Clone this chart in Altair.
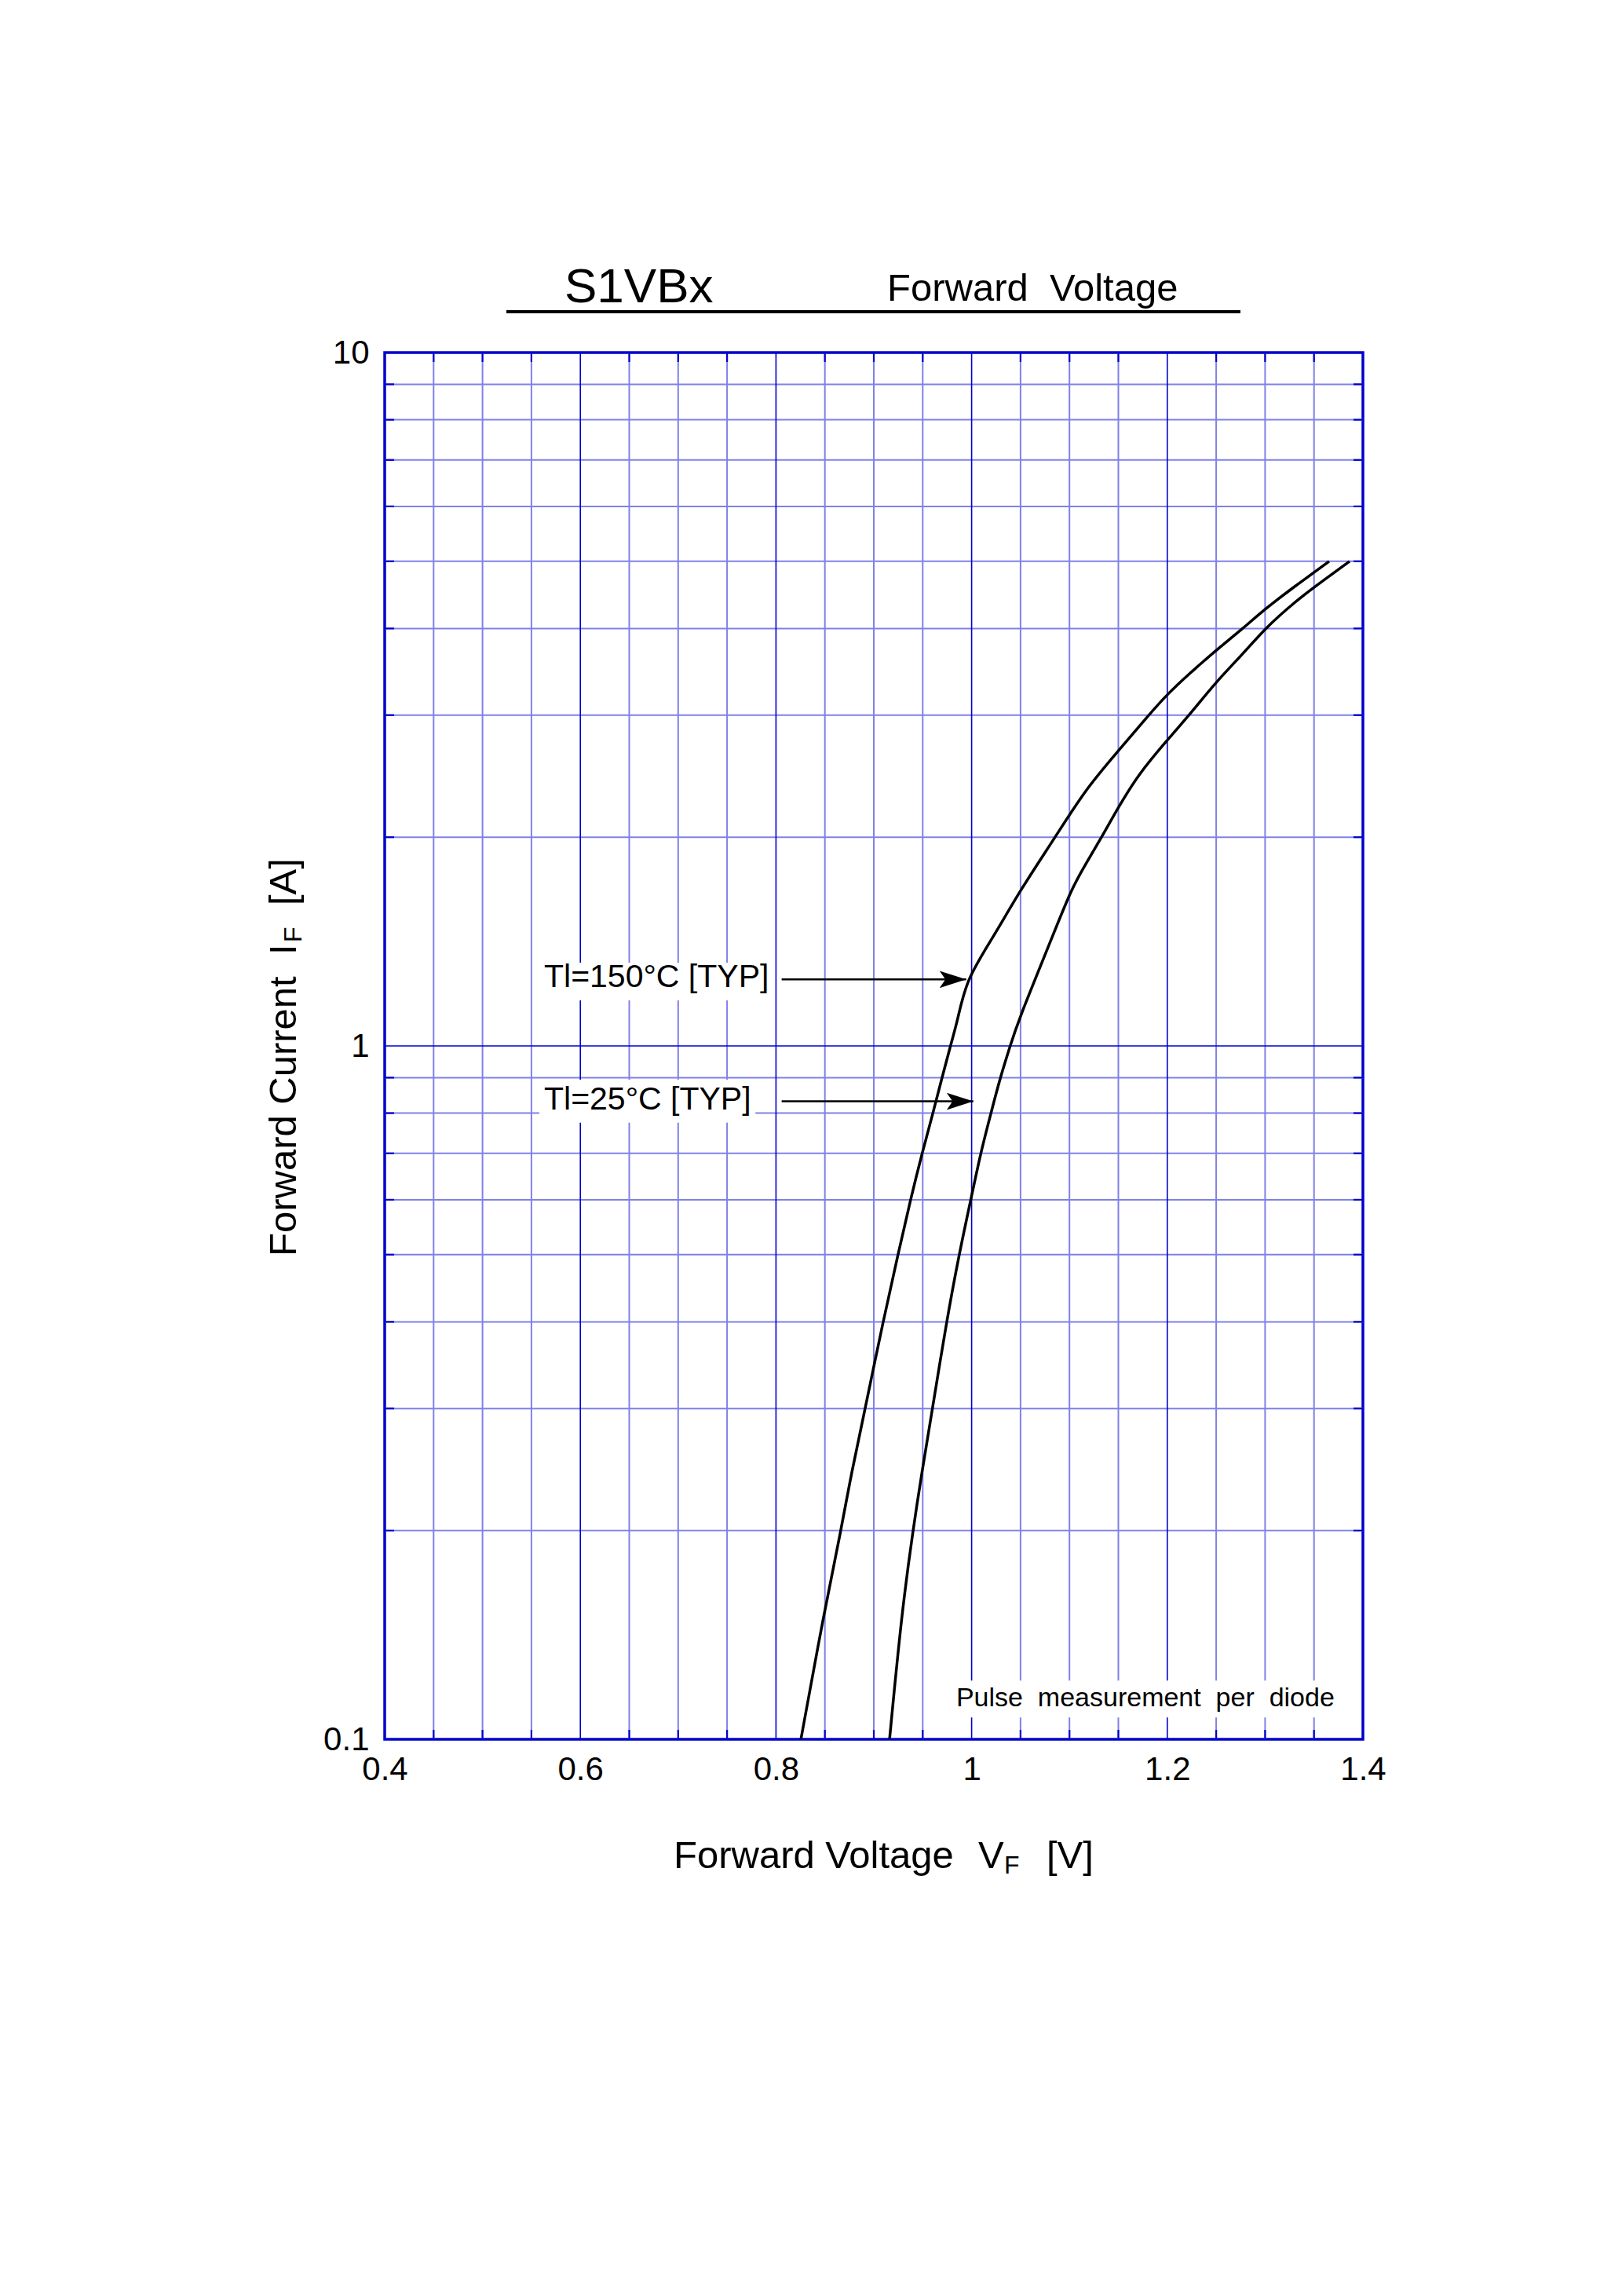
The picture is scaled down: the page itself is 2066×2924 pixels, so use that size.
import altair as alt
import pandas as pd

# forward characteristics (V, A)
v_150 = [0.8255, 0.8490, 0.8665, 0.8770, 0.8912, 0.9094, 0.9247, 0.9375, 0.9493, 0.9605,
         0.9697, 0.9783, 0.9855, 0.9945, 1.0215, 1.0505, 1.0855, 1.1168, 1.1500, 1.1810,
         1.2000, 1.2238, 1.2425, 1.2500, 1.2773, 1.2997, 1.3307, 1.3655]
i_150 = [0.100, 0.152, 0.200, 0.242, 0.300, 0.400, 0.500, 0.600, 0.700, 0.800,
         0.900, 1.000, 1.086, 1.247, 1.430, 1.685, 2.000, 2.349, 2.664, 3.000,
         3.216, 3.456, 3.641, 3.722, 4.000, 4.266, 4.605, 5.000]
v_25 = [0.9161, 0.9285, 0.9400, 0.9490, 0.9600, 0.9743, 0.9871, 0.9992, 1.0091, 1.0198,
        1.0292, 1.0394, 1.0475, 1.0820, 1.1020, 1.1170, 1.1329, 1.1500, 1.1703, 1.2000,
        1.2225, 1.2500, 1.2773, 1.2997, 1.3307, 1.3497, 1.3864]
i_25 = [0.100, 0.152, 0.200, 0.242, 0.300, 0.400, 0.500, 0.600, 0.700, 0.800,
        0.900, 1.000, 1.086, 1.430, 1.685, 1.833, 2.000, 2.209, 2.463, 2.762,
        3.000, 3.353, 3.674, 4.000, 4.371, 4.584, 5.000]

x_ticks = [0.4, 0.6, 0.8, 1.0, 1.2, 1.4]
y_ticks = [0.1, 1, 10]
x_grid_minor = [0.45, 0.5, 0.55, 0.65, 0.7, 0.75, 0.85, 0.9, 0.95, 1.05, 1.1, 1.15, 1.25, 1.3, 1.35]
x_grid_major = [0.6, 0.8, 1.0, 1.2]
y_grid_minor = [0.2, 0.3, 0.4, 0.5, 0.6, 0.7, 0.8, 0.9, 2, 3, 4, 5, 6, 7, 8, 9]
y_grid_major = [1]

ann_text = ["Tl=150°C [TYP]", "Tl=25°C [TYP]"]
ann_v = [0.5629, 0.5629]
ann_i = [1.2146, 0.809]
box_v = [0.558, 0.558, 0.975]
box_v2 = [0.798, 0.779, 1.38]
box_i = [1.163, 0.775, 0.1075]
box_i2 = [1.318, 0.894, 0.1215]
arrow_v0 = [0.8058, 0.8058]
arrow_v1 = [0.9945, 1.0018]
arrow_i = [1.247, 0.832]

NB = "\u00a0"
note = [f"Pulse{NB} measurement{NB} per{NB} diode"]
note_v = [0.9842]
note_i = [0.1115]

W, H = 1246, 1766
FONT = "Liberation Sans"
DARK = "#0000cc"
LIGHT = "#8080e8"

xs = alt.Scale(domain=[0.4, 1.4], nice=False, zero=False)
ys = alt.Scale(type="log", domain=[0.1, 10], nice=False)
xax = alt.Axis(values=x_ticks, format="~g", grid=False, ticks=False, tickSize=0, domain=False,
               title=None, labelFontSize=42, labelFont=FONT, labelColor="black", labelPadding=18,
               labelFlush=False)
yax = alt.Axis(values=y_ticks, format="~g", grid=False, ticks=False, tickSize=0, domain=False,
               title=None, labelFontSize=42, labelFont=FONT, labelColor="black", labelPadding=20,
               labelFlush=False)


def X(field):
    return alt.X(field, scale=xs, axis=xax)


def Y(field):
    return alt.Y(field, scale=ys, axis=yax)


curves = pd.concat([
    pd.DataFrame({"v": v_150, "i": i_150, "s": "150", "k": range(len(v_150))}),
    pd.DataFrame({"v": v_25, "i": i_25, "s": "25", "k": range(len(v_25))}),
])

xg_min = pd.DataFrame({"v": x_grid_minor})
xg_maj = pd.DataFrame({"v": x_grid_major})
yg_min = pd.DataFrame({"i": y_grid_minor})
yg_maj = pd.DataFrame({"i": y_grid_major})

vmin = alt.Chart(xg_min).mark_rule(color=LIGHT, strokeWidth=2).encode(x=X("v:Q"))
vmaj = alt.Chart(xg_maj).mark_rule(color=DARK, strokeWidth=1.6).encode(x=X("v:Q"))
hmin = alt.Chart(yg_min).mark_rule(color=LIGHT, strokeWidth=2).encode(y=Y("i:Q"))
hmaj = alt.Chart(yg_maj).mark_rule(color=DARK, strokeWidth=1.6).encode(y=Y("i:Q"))

# short inward ticks on the frame
tk_l = alt.Chart(yg_min).mark_rule(color=DARK, strokeWidth=2.2).encode(
    y=Y("i:Q"), x=alt.value(0), x2=alt.value(12))
tk_r = alt.Chart(yg_min).mark_rule(color=DARK, strokeWidth=2.2).encode(
    y=Y("i:Q"), x=alt.value(W - 12), x2=alt.value(W))
tk_b = alt.Chart(xg_min).mark_rule(color=DARK, strokeWidth=2.2).encode(
    x=X("v:Q"), y=alt.value(H - 12), y2=alt.value(H))
tk_t = alt.Chart(xg_min).mark_rule(color=DARK, strokeWidth=2.2).encode(
    x=X("v:Q"), y=alt.value(0), y2=alt.value(12))

boxes = alt.Chart(pd.DataFrame({"v": box_v, "v2": box_v2, "i": box_i, "i2": box_i2})).mark_rect(
    color="white").encode(x=X("v:Q"), x2="v2:Q", y=Y("i:Q"), y2="i2:Q")

lines = alt.Chart(curves).mark_line(color="black", strokeWidth=3.5, interpolate="basis").encode(
    x=X("v:Q"), y=Y("i:Q"), detail="s:N", order="k:Q")

arrows_df = pd.DataFrame({"v0": arrow_v0, "v1": arrow_v1, "i": arrow_i})
arrow_shafts = alt.Chart(arrows_df).mark_rule(color="black", strokeWidth=2.5).encode(
    x=X("v0:Q"), x2="v1:Q", y=Y("i:Q"))
arrow_heads = alt.Chart(arrows_df).mark_point(
    shape="M0,0L-1,-0.32L-0.78,0L-1,0.32Z", size=4624, filled=True, color="black",
    opacity=1, strokeWidth=0).encode(x=X("v1:Q"), y=Y("i:Q"))

ann = alt.Chart(pd.DataFrame({"t": ann_text, "v": ann_v, "i": ann_i})).mark_text(
    align="left", baseline="alphabetic", fontSize=41, font=FONT, color="black").encode(
    x=X("v:Q"), y=Y("i:Q"), text="t:N")

note_txt = alt.Chart(pd.DataFrame({"t": note, "v": note_v, "i": note_i})).mark_text(
    align="left", baseline="alphabetic", fontSize=34, font=FONT, color="black").encode(
    x=X("v:Q"), y=Y("i:Q"), text="t:N")


def label(txt, x, y, size, angle=0):
    return alt.Chart(pd.DataFrame({"t": [txt]})).mark_text(
        align="left", baseline="alphabetic", fontSize=size, font=FONT, color="black",
        angle=angle).encode(x=alt.value(x), y=alt.value(y), text="t:N")


title_parts = [
    label("S1VBx", 229, -64, 62),
    label(f"Forward{NB} Voltage", 640, -66, 49),
    label("Forward Voltage", 368, 1930, 49),
    label("V", 756, 1930, 49),
    label("F", 789, 1937, 32),
    label("[V]", 843, 1930, 49),
    label("Forward Current", -113, 1151, 49, angle=270),
    label("I", -113, 767, 49, angle=270),
    label("F", -106, 751, 32, angle=270),
    label("[A]", -113, 704, 49, angle=270),
]

underline = alt.Chart(pd.DataFrame({"t": [0]})).mark_rule(color="black", strokeWidth=4).encode(
    x=alt.value(155), x2=alt.value(1090), y=alt.value(-52))

chart = alt.layer(
    vmin, hmin, vmaj, hmaj, tk_l, tk_r, tk_b, tk_t, boxes, lines,
    arrow_shafts, arrow_heads, ann, note_txt, underline, *title_parts
).properties(
    width=W, height=H,
    padding={"left": 482, "top": 441, "right": 322, "bottom": 701},
    autosize=alt.AutoSizeParams(type="none"),
    background="white",
).configure_view(stroke=DARK, strokeWidth=3.5)

chart.save("out.html", embed_options={"renderer": "svg", "actions": False})
